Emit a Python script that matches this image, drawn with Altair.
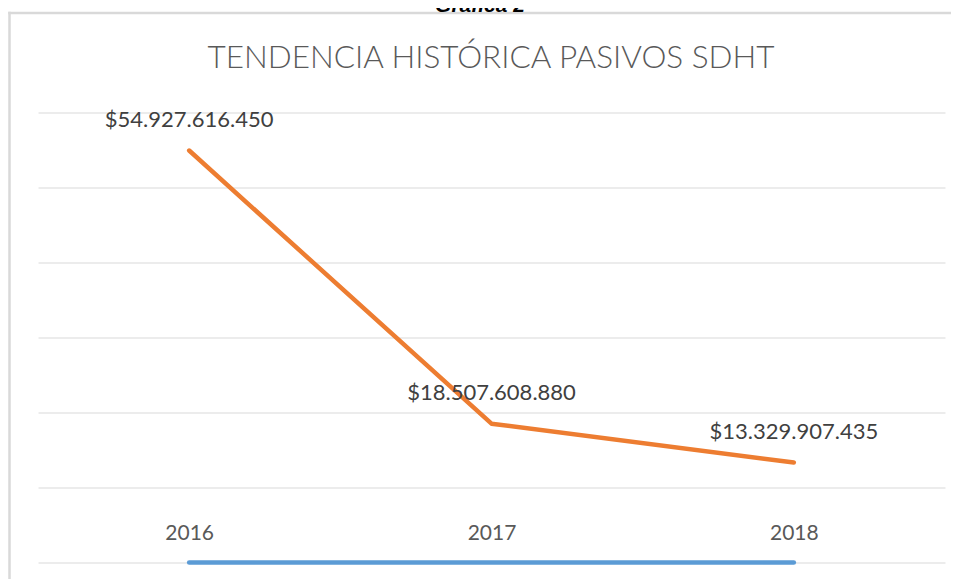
import altair as alt
import pandas as pd

years = ["2016", "2017", "2018"]
pasivos = [54927616450, 18507608880, 13329907435]
serie_base = [0, 0, 0]
grid_values = [0, 10e9, 20e9, 30e9, 40e9, 50e9, 60e9]
chart_title = "TENDENCIA HISTÓRICA PASIVOS SDHT"
caption = "Gráfica 2"

def fmt(v):
    return "$" + f"{v:,}".replace(",", ".")

df = pd.DataFrame({
    "year": years,
    "pasivos": pasivos,
    "base": serie_base,
    "label": [fmt(v) for v in pasivos],
})

x_enc = alt.X("year:O", title=None,
              scale=alt.Scale(type="point", padding=0.5),
              axis=alt.Axis(labelAngle=0, domain=False, ticks=False, tickSize=0,
                            labelPadding=-23, labelBaseline="alphabetic",
                            labelFont="Lato", labelFontSize=21, labelColor="#595959",
                            grid=False))
y_scale = alt.Scale(domain=[0, 60e9], nice=False, zero=True)
y_axis = alt.Axis(values=grid_values, labels=False, ticks=False, domain=False,
                  grid=True, gridColor="#D9D9D9", gridWidth=1, title=None)

base = alt.Chart(df)
first = "datum.year == '2016'"

frame_top = base.mark_rule(stroke="#D9D9D9", strokeWidth=2.5).encode(
    x=alt.value(-29.75), x2=alt.value(915), y=alt.value(-99.5)
).transform_filter(first)

frame_left = base.mark_rule(stroke="#D9D9D9", strokeWidth=2.5).encode(
    x=alt.value(-28.5), y=alt.value(-100.75), y2=alt.value(470)
).transform_filter(first)

grafica = base.mark_text(text=caption, font="Liberation Sans", fontSize=21,
                         fontWeight="bold", fontStyle="italic", color="#000000",
                         align="center", baseline="alphabetic").encode(
    x=alt.value(442), y=alt.value(-100.5)
).transform_filter(first)

title_mark = base.mark_text(text=chart_title, font="Lato", fontSize=31.5,
                            fontWeight=300, color="#595959",
                            align="center", baseline="alphabetic").encode(
    x=alt.value(453), y=alt.value(-45)
).transform_filter(first)

blue = base.mark_line(color="#5B9BD5", strokeWidth=4.5, strokeCap="round").encode(
    x=x_enc,
    y=alt.Y("base:Q", scale=y_scale, axis=y_axis),
)

orange = base.mark_line(color="#ED7D31", strokeWidth=4.5, strokeCap="round",
                        strokeJoin="round").encode(
    x=x_enc,
    y=alt.Y("pasivos:Q", scale=y_scale, axis=y_axis),
)

labels = base.mark_text(font="Lato", fontSize=22, color="#404040",
                        align="center", baseline="middle", dy=-31).encode(
    x=x_enc,
    y=alt.Y("pasivos:Q", scale=y_scale),
    text="label:N",
)

chart = alt.layer(frame_top, frame_left, blue, orange, labels, title_mark,
                  grafica).properties(
    width=907,
    height=450,
    autosize=alt.AutoSizeParams(type="none"),
    padding={"left": 30, "top": 104.5, "right": 6, "bottom": 16},
    background="#FFFFFF",
).configure_view(stroke=None)

chart.save("out.html", embed_options={"renderer": "svg", "actions": False})
